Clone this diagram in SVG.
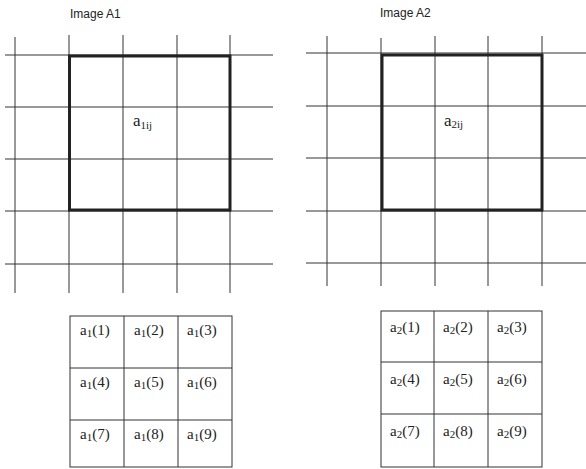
<svg xmlns="http://www.w3.org/2000/svg" width="586" height="469" viewBox="0 0 586 469">
<style>
.g{stroke:#333;stroke-width:1;fill:none}
.b{stroke:#222;stroke-width:3;fill:none}
.t{stroke:#333;stroke-width:1;fill:none}
.lab{font-family:"Liberation Sans",Arial,sans-serif;font-size:12px;fill:#222}
.m{font-family:"Liberation Serif","Times New Roman",serif;font-size:15px;fill:#222}
.c{font-size:17px}
.s{font-size:11px}
</style>
<rect width="586" height="469" fill="#fff"/>
<g id="imageA1">
<text class="lab" x="70" y="18">Image A1</text>
<g class="g">
<line x1="15" y1="37" x2="15" y2="293"/>
<line x1="69" y1="35" x2="69" y2="293"/>
<line x1="123" y1="35" x2="123" y2="293"/>
<line x1="177" y1="35" x2="177" y2="293"/>
<line x1="230" y1="35" x2="230" y2="293"/>
<line x1="5" y1="55" x2="273" y2="55"/>
<line x1="5" y1="107" x2="273" y2="107"/>
<line x1="5" y1="159" x2="273" y2="159"/>
<line x1="5" y1="211" x2="273" y2="211"/>
<line x1="5" y1="264" x2="273" y2="264"/>
</g>
<rect class="b" x="69.5" y="56" width="160.5" height="154"/>
<text class="m c" x="133" y="126">a<tspan class="s" dy="3">1ij</tspan></text>
</g>
<g id="imageA2">
<text class="lab" x="380" y="17">Image A2</text>
<g class="g">
<line x1="327" y1="36" x2="327" y2="286"/>
<line x1="381" y1="38" x2="381" y2="286"/>
<line x1="435" y1="36" x2="435" y2="286"/>
<line x1="488" y1="36" x2="488" y2="286"/>
<line x1="542" y1="36" x2="542" y2="286"/>
<line x1="306" y1="53" x2="586" y2="53"/>
<line x1="306" y1="106" x2="586" y2="106"/>
<line x1="306" y1="158" x2="586" y2="158"/>
<line x1="306" y1="211" x2="586" y2="211"/>
<line x1="306" y1="263" x2="586" y2="263"/>
</g>
<rect class="b" x="382" y="55" width="160" height="155"/>
<text class="m c" x="444" y="126">a<tspan class="s" dy="2">2ij</tspan></text>
</g>
<g id="tableA1">
<g class="t">
<rect x="70" y="316" width="162" height="151"/>
<line x1="124" y1="316" x2="124" y2="467"/>
<line x1="178" y1="316" x2="178" y2="467"/>
<line x1="70" y1="368" x2="232" y2="368"/>
<line x1="70" y1="420" x2="232" y2="420"/>
</g>
<text class="m" x="80" y="335">a<tspan class="s" dy="2">1</tspan><tspan dy="-2">(1)</tspan></text>
<text class="m" x="134" y="335">a<tspan class="s" dy="2">1</tspan><tspan dy="-2">(2)</tspan></text>
<text class="m" x="187" y="335">a<tspan class="s" dy="2">1</tspan><tspan dy="-2">(3)</tspan></text>
<text class="m" x="80" y="387">a<tspan class="s" dy="2">1</tspan><tspan dy="-2">(4)</tspan></text>
<text class="m" x="134" y="387">a<tspan class="s" dy="2">1</tspan><tspan dy="-2">(5)</tspan></text>
<text class="m" x="187" y="387">a<tspan class="s" dy="2">1</tspan><tspan dy="-2">(6)</tspan></text>
<text class="m" x="80" y="439">a<tspan class="s" dy="2">1</tspan><tspan dy="-2">(7)</tspan></text>
<text class="m" x="134" y="439">a<tspan class="s" dy="2">1</tspan><tspan dy="-2">(8)</tspan></text>
<text class="m" x="187" y="439">a<tspan class="s" dy="2">1</tspan><tspan dy="-2">(9)</tspan></text>
</g>
<g id="tableA2">
<g class="t">
<rect x="381" y="311" width="161" height="156"/>
<line x1="434" y1="311" x2="434" y2="467"/>
<line x1="488" y1="311" x2="488" y2="467"/>
<line x1="381" y1="362" x2="542" y2="362"/>
<line x1="381" y1="414" x2="542" y2="414"/>
</g>
<text class="m" x="390" y="332">a<tspan class="s" dy="2">2</tspan><tspan dy="-2">(1)</tspan></text>
<text class="m" x="443" y="332">a<tspan class="s" dy="2">2</tspan><tspan dy="-2">(2)</tspan></text>
<text class="m" x="497" y="332">a<tspan class="s" dy="2">2</tspan><tspan dy="-2">(3)</tspan></text>
<text class="m" x="390" y="384">a<tspan class="s" dy="2">2</tspan><tspan dy="-2">(4)</tspan></text>
<text class="m" x="443" y="384">a<tspan class="s" dy="2">2</tspan><tspan dy="-2">(5)</tspan></text>
<text class="m" x="497" y="384">a<tspan class="s" dy="2">2</tspan><tspan dy="-2">(6)</tspan></text>
<text class="m" x="390" y="436">a<tspan class="s" dy="2">2</tspan><tspan dy="-2">(7)</tspan></text>
<text class="m" x="443" y="436">a<tspan class="s" dy="2">2</tspan><tspan dy="-2">(8)</tspan></text>
<text class="m" x="497" y="436">a<tspan class="s" dy="2">2</tspan><tspan dy="-2">(9)</tspan></text>
</g>
</svg>
